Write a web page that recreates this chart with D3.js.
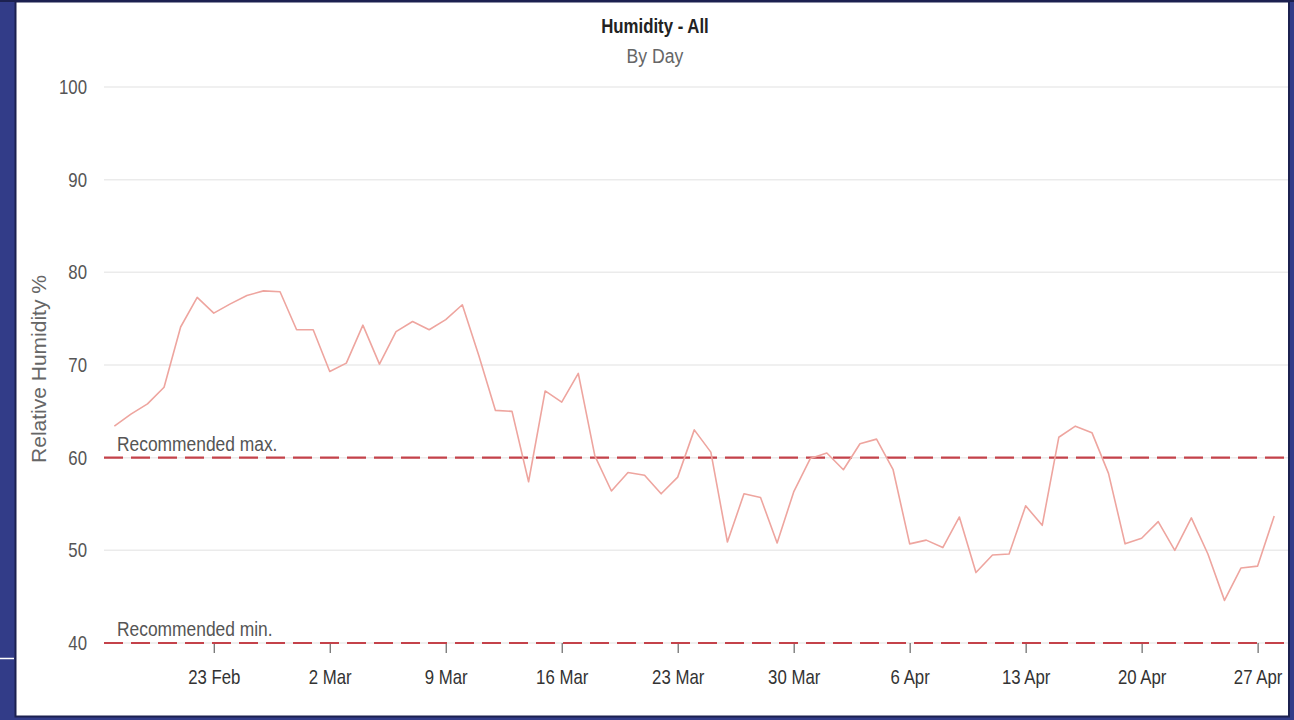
<!DOCTYPE html>
<html>
<head>
<meta charset="utf-8">
<script src="https://cdn.jsdelivr.net/npm/d3@7"></script>
<style>
    html, body { margin: 0; padding: 0; background: #323c88; }
    svg { display: block; }
</style>
</head>
<body>
<svg id="chart" width="1294" height="720"></svg>
<script>
// données (humidité moyenne par jour)
const startDate = "2015-02-17";
const humidity = [
    63.4, 64.7, 65.8, 67.6, 74.1, 77.3, 75.6, 76.6, 77.5, 78.0,
    77.9, 73.8, 73.8, 69.3, 70.2, 74.3, 70.1, 73.6, 74.7, 73.8,
    74.9, 76.5, 71.0, 65.1, 65.0, 57.4, 67.2, 66.0, 69.1, 60.2,
    56.4, 58.4, 58.1, 56.1, 57.9, 63.0, 60.6, 50.9, 56.1, 55.7,
    50.8, 56.3, 59.9, 60.5, 58.7, 61.5, 62.0, 58.7, 50.7, 51.1,
    50.3, 53.6, 47.6, 49.5, 49.6, 54.8, 52.7, 62.2, 63.4, 62.7,
    58.3, 50.7, 51.3, 53.1, 50.0, 53.5, 49.6, 44.6, 48.1, 48.3,
    53.7
];
const yTicks = [40, 50, 60, 70, 80, 90, 100];
const xTickDates = ["2015-02-23", "2015-03-02", "2015-03-09", "2015-03-16", "2015-03-23",
    "2015-03-30", "2015-04-06", "2015-04-13", "2015-04-20", "2015-04-27"];
const limits = [
    { label: "Recommended max.", value: 60 },
    { label: "Recommended min.", value: 40 }
];

const parseDay = d3.timeParse("%Y-%m-%d");
const day0 = parseDay(startDate);
const data = humidity.map((v, i) => ({ date: d3.timeDay.offset(day0, i), value: v }));

const svg = d3.select("#chart");
const font = "'Liberation Sans', Arial, sans-serif";
const sx = 0.84; // police étroite simulée (pas d'Arial Narrow)

// fond blanc du panneau avec bordure sombre
svg.append("rect").attr("x", 0).attr("y", 0).attr("width", 1294).attr("height", 2).attr("fill", "#1c2150");
svg.append("rect")
    .attr("x", 15.5).attr("y", 1.5)
    .attr("width", 1273.5).attr("height", 715)
    .attr("fill", "#ffffff")
    .attr("stroke", "#1c2150")
    .attr("stroke-width", 2);
// petit trait blanc à gauche
svg.append("line").attr("x1", 0).attr("x2", 14).attr("y1", 658.5).attr("y2", 658.5)
    .attr("stroke", "#ffffff").attr("stroke-width", 1.5);

const x = d3.scaleTime()
    .domain([d3.timeHour.offset(day0, -15), d3.timeHour.offset(parseDay("2015-04-28"), 20)])
    .range([104, 1288]);
const y = d3.scaleLinear().domain([40, 100]).range([643, 87]);

// grille horizontale
svg.append("g")
    .selectAll("line")
    .data(yTicks)
    .join("line")
    .attr("x1", 104).attr("x2", 1288)
    .attr("y1", d => y(d)).attr("y2", d => y(d))
    .attr("stroke", "#ebebeb")
    .attr("stroke-width", 1.5);

// axe Y (sans ligne)
const yAxis = svg.append("g")
    .attr("transform", "translate(87,0)")
    .call(d3.axisLeft(y).tickValues(yTicks).tickSize(0).tickPadding(0));
yAxis.select(".domain").remove();
yAxis.selectAll("text")
    .attr("x", 0)
    .attr("transform", `scale(${sx},1)`)
    .attr("font-family", font)
    .attr("font-size", 20)
    .attr("fill", "#555");

// axe X
const xAxis = svg.append("g")
    .attr("transform", `translate(0,${y(40)})`)
    .call(d3.axisBottom(x)
        .tickValues(xTickDates.map(parseDay))
        .tickFormat(d3.timeFormat("%-d %b"))
        .tickSize(10)
        .tickPadding(17));
xAxis.select(".domain").remove();
xAxis.selectAll(".tick line").attr("stroke", "#666").attr("stroke-width", 1.2);
xAxis.selectAll("text")
    .attr("transform", `scale(${sx},1)`)
    .attr("font-family", font)
    .attr("font-size", 20)
    .attr("fill", "#333");

// lignes recommandées
const limitG = svg.append("g")
    .selectAll("g")
    .data(limits)
    .join("g");
limitG.append("line")
    .attr("x1", 104).attr("x2", 1288)
    .attr("y1", d => y(d.value)).attr("y2", d => y(d.value))
    .attr("stroke", "#c4424a")
    .attr("stroke-width", 2.2)
    .attr("stroke-dasharray", "19,8");
limitG.append("text")
    .attr("transform", d => `translate(117,${y(d.value) - 7}) scale(0.87,1)`)
    .attr("font-family", font)
    .attr("font-size", 20)
    .attr("fill", "#555")
    .text(d => d.label);

// courbe
const line = d3.line().x(d => x(d.date)).y(d => y(d.value));
svg.append("path")
    .datum(data)
    .attr("d", line)
    .attr("fill", "none")
    .attr("stroke", "#eea59f")
    .attr("stroke-width", 1.6)
    .attr("stroke-linejoin", "round");

// titres
svg.append("text")
    .attr("transform", `translate(655,33) scale(0.8,1)`)
    .attr("text-anchor", "middle")
    .attr("font-family", font)
    .attr("font-weight", "bold")
    .attr("font-size", 21)
    .attr("fill", "#222")
    .text("Humidity - All");
svg.append("text")
    .attr("transform", `translate(655,63) scale(${sx},1)`)
    .attr("text-anchor", "middle")
    .attr("font-family", font)
    .attr("font-size", 21)
    .attr("fill", "#666")
    .text("By Day");

svg.append("text")
    .attr("transform", "translate(46,369) rotate(-90)")
    .attr("text-anchor", "middle")
    .attr("font-family", font)
    .attr("font-size", 21)
    .attr("fill", "#666")
    .text("Relative Humidity %");
</script>
</body>
</html>
